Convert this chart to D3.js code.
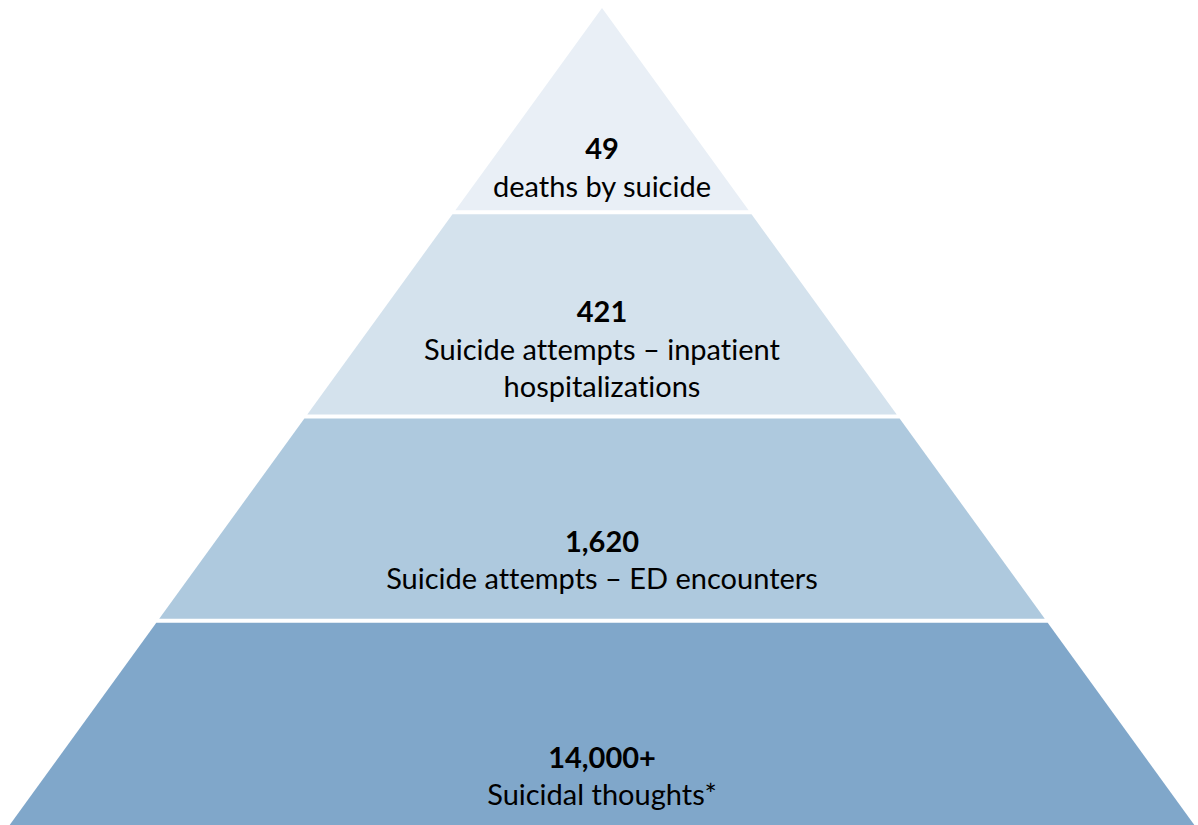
<!DOCTYPE html>
<html>
<head>
<meta charset="utf-8">
<script src="https://cdn.jsdelivr.net/npm/d3@7"></script>
<style>
  html, body { margin: 0; padding: 0; background: #fff; }
  svg { display: block; }
  text { font-variant-ligatures: none; }
</style>
</head>
<body>
<svg id="chart"></svg>
<script>
// Pyramid levels, top to bottom
const values = ['49', '421', '1,620', '14,000+'];
const labels = [
  ['deaths by suicide'],
  ['Suicide attempts \u2013 inpatient', 'hospitalizations'],
  ['Suicide attempts \u2013 ED encounters'],
  ['Suicidal thoughts*']
];

const colors = ['#e9eff6', '#d4e2ed', '#aec9de', '#80a7ca'];

const width = 1198, height = 825;
const apex = { x: 602, y: 8 };
const slope = 0.725;     // half-width per vertical pixel
const gap = 4;           // white gap between layers
const lineHeight = 37.5;
// first-line baseline, measured from each layer's top
const textTop = [151, 110, 135, 147];

const svg = d3.select('#chart')
  .attr('width', width)
  .attr('height', height);

// y scale: level index -> pixel
const y = d3.scaleLinear()
  .domain([0, values.length])
  .range([apex.y, height]);

const halfW = yy => (yy - apex.y) * slope;

const layers = values.map((v, i) => {
  const top = i === 0 ? y(0) : y(i) + gap / 2;
  const bottom = i === values.length - 1 ? y(i + 1) : y(i + 1) - gap / 2;
  return { value: v, lines: labels[i], color: colors[i], top, bottom, i };
});

const g = svg.append('g');

g.selectAll('path.layer')
  .data(layers)
  .enter()
  .append('path')
  .attr('class', 'layer')
  .attr('fill', d => d.color)
  .attr('d', d => {
    const tw = halfW(d.top), bw = halfW(d.bottom);
    return d3.line()([
      [apex.x - tw, d.top],
      [apex.x + tw, d.top],
      [apex.x + bw, d.bottom],
      [apex.x - bw, d.bottom]
    ]) + 'Z';
  });

const txt = g.selectAll('text.lbl')
  .data(layers)
  .enter()
  .append('text')
  .attr('class', 'lbl')
  .attr('text-anchor', 'middle')
  .attr('font-family', 'Lato, "Open Sans", sans-serif')
  .attr('font-size', 29)
  .attr('fill', '#000');

txt.append('tspan')
  .attr('x', apex.x)
  .attr('y', d => y(d.i) + textTop[d.i])
  .attr('font-weight', 'bold')
  .text(d => d.value);

txt.each(function(d) {
  const t = d3.select(this);
  d.lines.forEach((line, k) => {
    t.append('tspan')
      .attr('x', apex.x)
      .attr('y', y(d.i) + textTop[d.i] + lineHeight * (k + 1))
      .text(line);
  });
});
</script>
</body>
</html>
